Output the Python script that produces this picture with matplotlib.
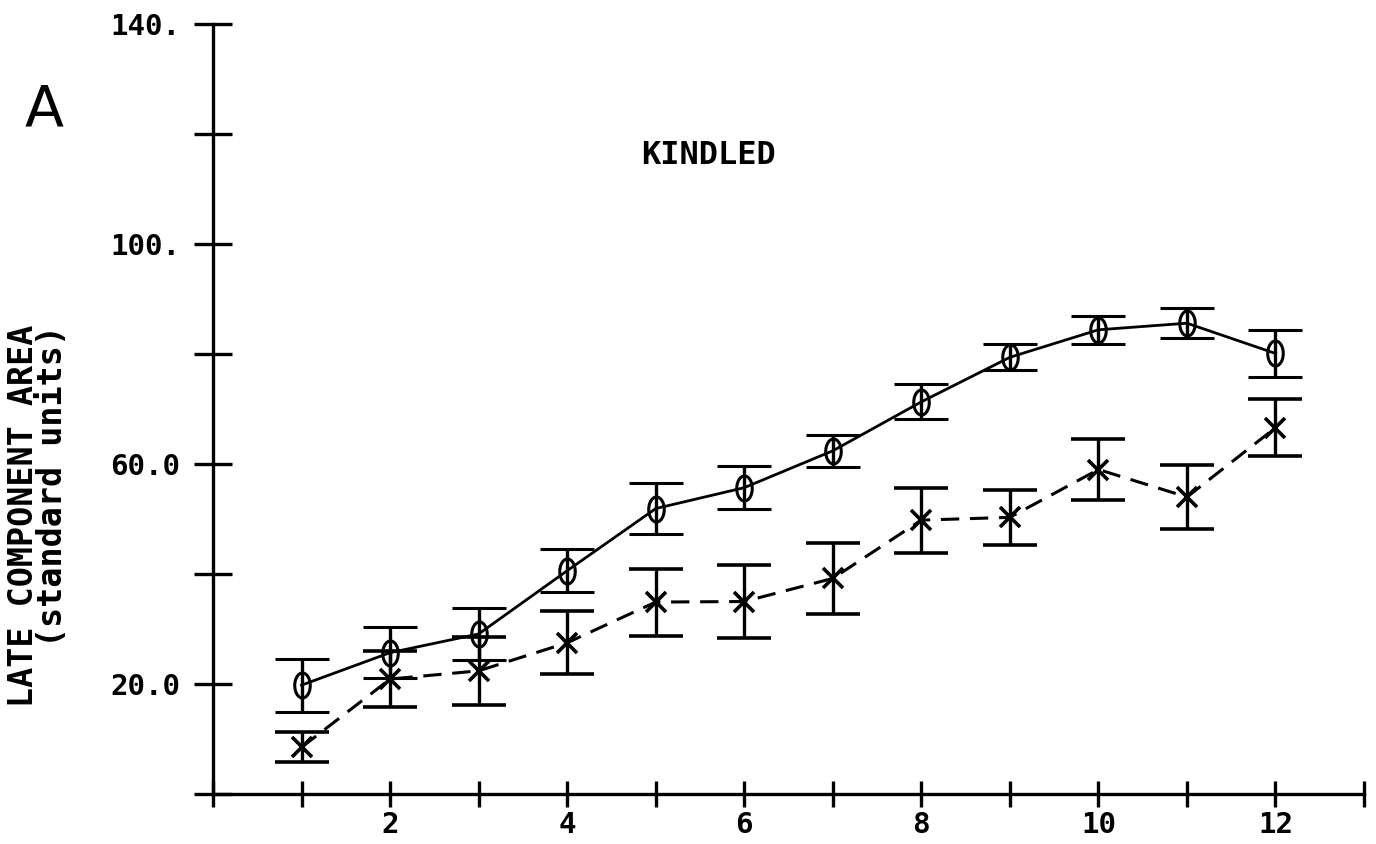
import numpy as np
import matplotlib
matplotlib.use("Agg")
import matplotlib.pyplot as plt
from matplotlib.path import Path

# Sessions along the x axis
sessions = [1, 2, 3, 4, 5, 6, 7, 8, 9, 10, 11, 12]

# Kindled group, circle series (solid line): mean and error
circle_mean = [19.8, 25.7, 29.1, 40.6, 51.9, 55.7, 62.4, 71.3, 79.4, 84.4, 85.6, 80.1]
circle_err = [4.8, 4.6, 4.8, 3.9, 4.6, 3.9, 2.9, 3.2, 2.4, 2.5, 2.7, 4.2]

# Cross series (dashed line): mean and error
cross_mean = [8.5, 20.9, 22.4, 27.5, 34.9, 35.0, 39.2, 49.8, 50.3, 59.0, 54.0, 66.6]
cross_err = [2.7, 5.1, 6.2, 5.7, 6.1, 6.7, 6.5, 5.9, 5.0, 5.5, 5.8, 5.2]

y_ticks = [0, 20, 40, 60, 80, 100, 120, 140]
y_tick_labels = ["", "20.0", "", "60.0", "", "100.", "", "140."]
x_ticks = list(range(0, 14))
x_tick_labels = [str(t) if t in (2, 4, 6, 8, 10, 12) else "" for t in x_ticks]

MONO = "DejaVu Sans Mono"

fig = plt.figure(figsize=(13.76, 8.44), dpi=100)
ax = fig.add_axes([0.1548, 0.0592, 0.9913 - 0.1548, 0.9716 - 0.0592])

# tall ellipse marker, like a plotter "0"
t = np.linspace(0, 2 * np.pi, 80)
oval = Path(np.column_stack([0.62 * np.cos(t), np.sin(t)]), closed=True)

ax.errorbar(sessions, circle_mean, yerr=circle_err, color="black",
            ls="-", lw=2.0, marker=oval, ms=18, mew=2.2, mfc="none",
            elinewidth=2.4, capsize=19.5, capthick=2.6, clip_on=False)
ax.errorbar(sessions, cross_mean, yerr=cross_err, color="black",
            ls=(0, (6, 3.5)), lw=2.2, marker="x", ms=14, mew=2.6,
            elinewidth=2.4, capsize=19.5, capthick=2.6, clip_on=False)

ax.set_xlim(0, 13)
ax.set_ylim(0, 140)
ax.set_yticks(y_ticks)
ax.set_yticklabels(y_tick_labels)
ax.set_xticks(x_ticks)
ax.set_xticklabels(x_tick_labels)

for side in ("top", "right"):
    ax.spines[side].set_visible(False)
for side in ("left", "bottom"):
    ax.spines[side].set_linewidth(2.4)

ax.tick_params(axis="y", direction="inout", length=27, width=2.4, pad=10,
               labelsize=21)
ax.tick_params(axis="x", direction="inout", length=19, width=2.4, pad=3,
               labelsize=21)
for lab in ax.get_xticklabels() + ax.get_yticklabels():
    lab.set_family(MONO)
    lab.set_weight("bold")

ax.text(5.6, 116, "KINDLED", family=MONO, fontsize=23, fontweight="bold",
        ha="center", va="center")

fig.text(0.032, 0.8685, "A", family="DejaVu Sans", fontsize=41,
         ha="center", va="center")
fig.text(0.0276, 0.3886, "LATE COMPONENT AREA\n(standard units)", family=MONO,
         fontsize=24, fontweight="bold", rotation=90, ha="center", va="center",
         multialignment="right", linespacing=0.85)

fig.savefig("out.png", dpi=100)
